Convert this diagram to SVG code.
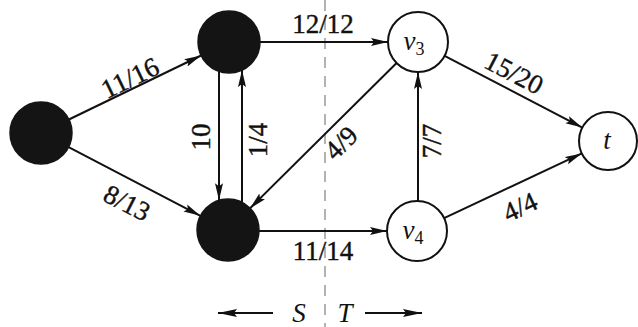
<svg xmlns="http://www.w3.org/2000/svg" width="638" height="327" viewBox="0 0 638 327">
<style>
.e{stroke:#111;stroke-width:2;fill:none;marker-end:url(#ah)}
.bn{fill:#141414;stroke:#141414;stroke-width:1.5}
.wn{fill:#fff;stroke:#111;stroke-width:2}
.lb{font-family:"Liberation Serif","Times New Roman",serif;font-size:27px;fill:#111;stroke:#111;stroke-width:0.4;text-anchor:middle;dominant-baseline:central}
.nl{font-family:"Liberation Serif","Times New Roman",serif;font-size:27px;font-style:italic;fill:#111;text-anchor:middle}
</style>
<defs>
<marker id="ah" markerUnits="userSpaceOnUse" markerWidth="20" markerHeight="10" refX="17" refY="4.5" orient="auto">
<path d="M0,0.5 L17,4.5 L0,8.5 L3,4.5 z" fill="#111"/>
</marker>
<marker id="ah2" markerUnits="userSpaceOnUse" markerWidth="22" markerHeight="10" refX="19" refY="4.5" orient="auto">
<path d="M0,0.5 L19,4.5 L0,8.5 L3,4.5 z" fill="#111"/>
</marker>
</defs>
<rect width="638" height="327" fill="#fff"/>
<line x1="325" y1="0" x2="325" y2="327" stroke="#9a9a9a" stroke-width="1.5" stroke-dasharray="11,8"/>
<g id="connectors">
<line class="e" x1="68.9" y1="119.5" x2="201.1" y2="55.5"/>
<line class="e" x1="68.6" y1="147.2" x2="200.4" y2="215.8"/>
<line class="e" x1="260" y1="42" x2="388" y2="42"/>
<line class="e" x1="219" y1="71.3" x2="219" y2="200.3"/>
<line class="e" x1="242" y1="202.3" x2="242" y2="70.1"/>
<line class="e" x1="396.6" y1="63" x2="250.1" y2="208.3"/>
<line class="e" x1="259" y1="231" x2="387" y2="231"/>
<line class="e" x1="418" y1="201" x2="418" y2="72"/>
<line class="e" x1="444.6" y1="55.9" x2="582.3" y2="127.6"/>
<line class="e" x1="444.1" y1="218.2" x2="581.8" y2="153.4"/>
</g>
<g id="labels">
<text class="lb" transform="translate(130,78) rotate(-25.8)">11/16</text>
<text class="lb" transform="translate(127,203) rotate(27)">8/13</text>
<text class="lb" x="323" y="24">12/12</text>
<text class="lb" transform="translate(201,137) rotate(-90)">10</text>
<text class="lb" transform="translate(258,140) rotate(-90)">1/4</text>
<text class="lb" transform="translate(341,143) rotate(-44.5)">4/9</text>
<text class="lb" x="323" y="251">11/14</text>
<text class="lb" transform="translate(432,141) rotate(-90)">7/7</text>
<text class="lb" transform="translate(514,73) rotate(27.5)">15/20</text>
<text class="lb" transform="translate(520,207) rotate(-25)">4/4</text>
</g>
<g id="s"><circle class="bn" cx="41" cy="133" r="31"/></g>
<g id="v1"><circle class="bn" cx="229" cy="42" r="31"/></g>
<g id="v2"><circle class="bn" cx="228" cy="230" r="31"/></g>
<g id="v3"><circle class="wn" cx="418" cy="42" r="30"/><text class="nl" x="414" y="50">v<tspan font-size="18" font-style="normal" dy="5">3</tspan></text></g>
<g id="v4"><circle class="wn" cx="417" cy="231" r="30"/><text class="nl" x="413" y="239">v<tspan font-size="18" font-style="normal" dy="5">4</tspan></text></g>
<g id="t"><circle class="wn" cx="608" cy="141" r="29"/><text class="nl" x="607" y="149">t</text></g>
<g id="cut">
<line x1="218" y1="313" x2="273" y2="313" stroke="#111" stroke-width="2" marker-end="url(#ah2)" transform="rotate(180 245.5 313)"/>
<text class="nl" x="299" y="322" font-size="29">S</text>
<text class="nl" x="345" y="322" font-size="29">T</text>
<line x1="365" y1="313" x2="422" y2="313" stroke="#111" stroke-width="2" marker-end="url(#ah2)"/>
</g>
</svg>
